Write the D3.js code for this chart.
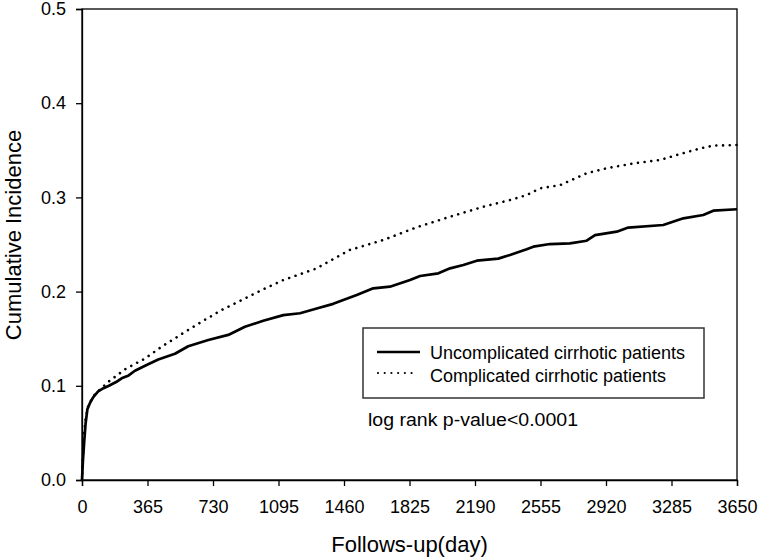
<!DOCTYPE html>
<html>
<head>
<meta charset="utf-8">
<script src="https://cdn.jsdelivr.net/npm/d3@7"></script>
<style>
  html, body { margin: 0; padding: 0; background: #fff; }
  svg { display: block; }
  text { font-family: "Liberation Sans", Arial, sans-serif; fill: #000; }
</style>
</head>
<body>
<svg id="chart" width="758" height="559"></svg>
<script>
// ---- data ----
const xTicks = [0, 365, 730, 1095, 1460, 1825, 2190, 2555, 2920, 3285, 3650];
const yTicks = [0.0, 0.1, 0.2, 0.3, 0.4, 0.5];
const seriesNames = ["Uncomplicated cirrhotic patients", "Complicated cirrhotic patients"];

const uncompDays = [0, 5, 12, 20, 30, 45, 63, 90, 120, 150, 190, 221, 260, 295, 360, 425, 518, 592, 704, 815, 908, 1010, 1122, 1215, 1308, 1400, 1456, 1531, 1623, 1716, 1828, 1884, 1986, 2051, 2125, 2200, 2320, 2385, 2478, 2515, 2608, 2719, 2812, 2859, 2980, 3044, 3239, 3351, 3462, 3518, 3650];
const uncompVals = [0, 0.02, 0.04, 0.06, 0.075, 0.082, 0.088, 0.094, 0.0975, 0.100, 0.104, 0.108, 0.111, 0.116, 0.122, 0.128, 0.134, 0.142, 0.1486, 0.154, 0.1627, 0.169, 0.175, 0.177, 0.182, 0.187, 0.191, 0.1964, 0.2035, 0.2052, 0.2123, 0.2166, 0.2194, 0.2247, 0.2282, 0.2328, 0.2350, 0.2389, 0.245, 0.2477, 0.2505, 0.2512, 0.254, 0.260, 0.2636, 0.268, 0.2707, 0.2778, 0.2813, 0.2859, 0.2874];

const compDays = [0, 5, 12, 20, 35, 63, 100, 147, 240, 351, 444, 556, 667, 778, 890, 1010, 1122, 1308, 1493, 1679, 1865, 2051, 2236, 2385, 2478, 2552, 2664, 2812, 2924, 3072, 3221, 3314, 3444, 3518, 3650];
const compVals = [0, 0.025, 0.05, 0.065, 0.079, 0.089, 0.096, 0.1043, 0.1175, 0.129, 0.1415, 0.155, 0.168, 0.1805, 0.191, 0.2024, 0.2123, 0.2247, 0.2442, 0.2548, 0.2683, 0.2795, 0.2901, 0.2972, 0.3025, 0.3096, 0.313, 0.3256, 0.331, 0.336, 0.3397, 0.345, 0.352, 0.355, 0.3556];

const xTitle = "Follows-up(day)";
const yTitle = "Cumulative Incidence";
const pText = "log rank p-value<0.0001";

// ---- layout ----
const L = 82, R = 737, T = 9, B = 480;
const svg = d3.select("#chart");
const x = d3.scaleLinear().domain([0, 3650]).range([L, R]);
const y = d3.scaleLinear().domain([0, 0.5]).range([B, T]);

// frame
svg.append("rect").attr("x", L).attr("y", T).attr("width", R - L).attr("height", B - T)
  .attr("fill", "none").attr("stroke", "#000").attr("stroke-width", 1.3);

// axes
const xAxis = svg.append("g").attr("transform", `translate(0,${B})`)
  .call(d3.axisBottom(x).tickValues(xTicks).tickFormat(d3.format("d")).tickSize(6).tickPadding(10));
const yAxis = svg.append("g").attr("transform", `translate(${L},0)`)
  .call(d3.axisLeft(y).tickValues(yTicks).tickFormat(d3.format(".1f")).tickSize(6).tickPadding(10));
[xAxis, yAxis].forEach(g => {
  g.select(".domain").attr("stroke", "#000").attr("stroke-width", 1.3);
  g.selectAll(".tick line").attr("stroke", "#000").attr("stroke-width", 1.3);
  g.selectAll(".tick text").attr("font-size", 18).attr("font-family", "Liberation Sans, Arial, sans-serif").attr("fill", "#000");
});
xAxis.selectAll(".tick text").attr("dy", "0.71em").attr("y", 20);

// titles
svg.append("text").attr("x", (L + R) / 2).attr("y", 552).attr("text-anchor", "middle")
  .attr("font-size", 22).text(xTitle);
svg.append("text").attr("transform", `translate(21,235) rotate(-90)`).attr("text-anchor", "middle")
  .attr("font-size", 22).text(yTitle);

// lines
const line = d3.line().x(d => x(d[0])).y(d => y(d[1]));
const uncomp = uncompDays.map((d, i) => [d, uncompVals[i]]);
const comp = compDays.map((d, i) => [d, compVals[i]]);

svg.append("path").datum(comp).attr("d", line).attr("fill", "none")
  .attr("stroke", "#000").attr("stroke-width", 2.6).attr("stroke-linecap", "round")
  .attr("stroke-dasharray", "0.01 6.7");
svg.append("path").datum(uncomp).attr("d", line).attr("fill", "none")
  .attr("stroke", "#000").attr("stroke-width", 2.7).attr("stroke-linejoin", "round");

// legend
const lg = svg.append("g");
lg.append("rect").attr("x", 363).attr("y", 328).attr("width", 341).attr("height", 70)
  .attr("fill", "#fff").attr("stroke", "#333").attr("stroke-width", 1.5);
lg.append("line").attr("x1", 377).attr("x2", 420).attr("y1", 352).attr("y2", 352)
  .attr("stroke", "#000").attr("stroke-width", 2.7);
lg.append("line").attr("x1", 378).attr("x2", 412).attr("y1", 373).attr("y2", 373)
  .attr("stroke", "#000").attr("stroke-width", 2.2).attr("stroke-linecap", "round")
  .attr("stroke-dasharray", "0.01 6.7");
lg.append("text").attr("x", 430).attr("y", 358.5).attr("font-size", 18).text(seriesNames[0]);
lg.append("text").attr("x", 430).attr("y", 381.5).attr("font-size", 18).text(seriesNames[1]);

// p-value
svg.append("text").attr("x", 368).attr("y", 426)
  .attr("font-family", "'Noto Sans CJK TC', 'Noto Sans', sans-serif")
  .attr("font-size", 17.5).attr("font-weight", 500)
  .attr("textLength", 210).attr("lengthAdjust", "spacingAndGlyphs")
  .text(pText);
</script>
</body>
</html>
